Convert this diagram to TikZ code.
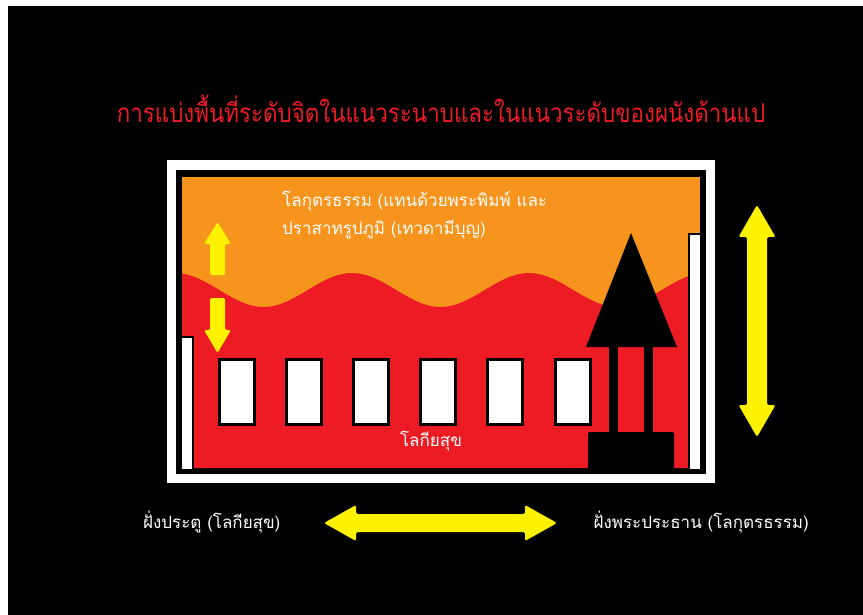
\documentclass[tikz,border=0pt]{standalone}
\usepackage{fontspec}
\newfontfamily\thaifont[Script=Thai]{Loma}
\newfontfamily\thaititlefont[Script=Thai, FakeStretch=0.86]{Loma}
\usetikzlibrary{positioning}
\definecolor{wallorange}{HTML}{F7941D}
\definecolor{wallred}{HTML}{ED1C24}
\definecolor{arrowyellow}{HTML}{FFF200}
\tikzstyle{window}=[
  fill=white,
  draw=black,
  line width=3pt
]
\tikzstyle{pillar}=[
  fill=white,
  draw=black,
  line width=1.5pt
]
\tikzstyle{yarrow}=[
  fill=arrowyellow,
  rounded corners=1.5pt
]
\tikzstyle{thaitext}=[
  text=white,
  inner sep=0pt,
  font=\thaifont\fontsize{17}{22}\selectfont
]
% x, top tip, bottom tip, head half width, shaft half width, head length
\newcommand{\vdoublearrow}[6]{
  \fill[yarrow] (#1,#2) -- (#1+#4,#2+#6) -- (#1+#5,#2+#6) -- (#1+#5,#3-#6)
    -- (#1+#4,#3-#6) -- (#1,#3) -- (#1-#4,#3-#6) -- (#1-#5,#3-#6)
    -- (#1-#5,#2+#6) -- (#1-#4,#2+#6) -- cycle;
}
% y, left tip, right tip, head half height, shaft half height, head length
\newcommand{\hdoublearrow}[6]{
  \fill[yarrow] (#2,#1) -- (#2+#6,#1-#4) -- (#2+#6,#1-#5) -- (#3-#6,#1-#5)
    -- (#3-#6,#1-#4) -- (#3,#1) -- (#3-#6,#1+#4) -- (#3-#6,#1+#5)
    -- (#2+#6,#1+#5) -- (#2+#6,#1+#4) -- cycle;
}

\begin{document}
\begin{tikzpicture}[x=1pt, y=-1pt]
  \fill[white] (0,0) rectangle (863,615);
  \fill[black] (8,6) rectangle (863,615);

  \node[text=wallred, inner sep=0pt, font=\thaititlefont\fontsize{26}{30}\selectfont]
    (title) at (441,109) {การแบ่งพื้นที่ระดับจิตในแนวระนาบและในแนวระดับของผนังด้านแป};

  % wall
  \fill[white] (167,160) rectangle (715,483);
  \fill[black] (176,170) rectangle (706,474);
  \fill[wallorange] (182,177) rectangle (700,468);
  \fill[wallred] (182,468)
    -- plot[domain=182:700, samples=120] (\x, {290-17*cos(2.0339*(\x-175))})
    -- (700,468) -- cycle;

  \filldraw[pillar] (181,337) rectangle (193,470);
  \filldraw[pillar] (689,234) rectangle (701,470);

  \foreach \i in {0,...,5}
    \filldraw[window] ({219.5+67.1*\i},359) rectangle +(35,65);

  % main image and base
  \fill[black] (631,233) -- (677,347) -- (586,347) -- cycle;
  \fill[black] (609,346) rectangle (618,434);
  \fill[black] (644,346) rectangle (653,434);
  \fill[black, rounded corners=2pt] (588,470) -- (588,432) -- (674,432) -- (674,470);

  \node[thaitext, anchor=west] (upper1) at (282,201) {โลกุตรธรรม (แทนด้วยพระพิมพ์ และ};
  \node[thaitext, anchor=west] (upper2) at (282,230) {ปราสาทรูปภูมิ (เทวดามีบุญ)};
  \node[thaitext] (lower) at (431,441) {โลกียสุข};

  % arrows
  \fill[yarrow] (217.5,222) -- (231,244) -- (225,244) -- (225,275) -- (210,275)
    -- (210,244) -- (204,244) -- cycle;
  \fill[yarrow] (217.5,353) -- (231,330) -- (225,330) -- (225,298) -- (210,298)
    -- (210,330) -- (204,330) -- cycle;
  \vdoublearrow{757}{205}{437}{18.5}{10}{32}
  \hdoublearrow{523}{324}{557}{18}{9}{32}

  \node[thaitext, anchor=west] (door) at (143,522) {ฝั่งประตู (โลกียสุข)};
  \node[thaitext, anchor=east] (altar) at (809,522) {ฝั่งพระประธาน (โลกุตรธรรม)};
\end{tikzpicture}
\end{document}
